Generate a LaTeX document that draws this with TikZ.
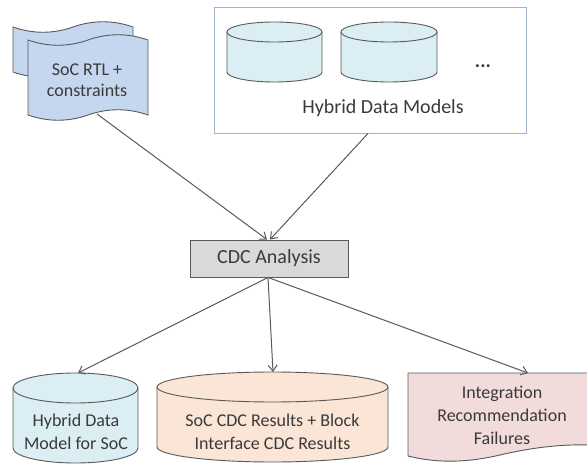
\documentclass[tikz,border=0pt]{standalone}
\usepackage{fontspec}
\setmainfont{Carlito}
\usetikzlibrary{arrows.meta}
\definecolor{linegray}{HTML}{595959}
\definecolor{textgray}{HTML}{3A3A3A}
\definecolor{sheetblue}{HTML}{C5D7EF}
\definecolor{drumblue}{HTML}{DAEEF3}
\definecolor{drumpeach}{HTML}{FBE5D6}
\definecolor{docpink}{HTML}{F2DCDB}
\definecolor{boxblue}{HTML}{9FB4D0}
\definecolor{cdcgray}{HTML}{D9D9D9}
% drum: style, left x, right x, top y, bottom y, y radius
\newcommand{\drawdrum}[6]{%
  \draw[#1] (#2,#4) -- (#2,#5) arc[start angle=180,end angle=360,x radius={(#3-#2)/2},y radius=#6]
    -- (#3,#4) arc[start angle=0,end angle=180,x radius={(#3-#2)/2},y radius=#6] -- cycle;
  \draw[#1,fill=none] (#2,#4) arc[start angle=180,end angle=360,x radius={(#3-#2)/2},y radius=#6];
}
\tikzset{
  sheet/.style={draw=linegray, fill=sheetblue, line width=0.9pt},
  drum/.style={draw=linegray, line width=0.9pt},
  txt/.style={text=textgray, align=center, font=\fontsize{18}{22}\selectfont},
  bigtxt/.style={text=textgray, align=center, font=\fontsize{20}{24}\selectfont},
  conn/.style={->, draw=linegray, line width=1pt}
}
\begin{document}
\begin{tikzpicture}[x=1pt, y=1pt, >={Straight Barb[length=6pt,width=9pt]}]
\useasboundingbox (0,0) rectangle (587,464);
% input sheets
\draw[sheet] (13,437) .. controls (33,430) and (53,430) .. (73,437) .. controls (93,444) and (113,444) .. (133,437)
  -- (133,392) .. controls (113,399) and (93,399) .. (73,392) .. controls (53,385) and (33,385) .. (13,392) -- cycle;
\draw[sheet] (28,424) .. controls (48,417) and (68,417) .. (88,424) .. controls (108,431) and (128,431) .. (148,424)
  -- (148,349) .. controls (128,356) and (108,356) .. (88,349) .. controls (68,342) and (48,342) .. (28,349) -- cycle;
\node[txt, font=\fontsize{18}{21}\selectfont] (soc) at (87,384) {SoC RTL +\\constraints};
\coordinate (soc-out) at (97,350);
% hybrid data models
\node[draw=boxblue, line width=0.9pt, minimum width=312pt, minimum height=126pt] (hdmbox) at (370,394) {};
\drawdrum{drum, fill=drumblue}{227}{322}{432}{392}{10}
\drawdrum{drum, fill=drumblue}{341}{437}{432}{392}{10}
\node[bigtxt] (dots) at (483,398) {\textbf{...}};
\node[bigtxt] (hdmlabel) at (383,356) {Hybrid Data Models};
% analysis
\node[draw=linegray, fill=cdcgray, line width=0.9pt, minimum width=158pt, minimum height=37pt, bigtxt] (cdc) at (269,205.5) {CDC Analysis};
\draw[conn] (soc-out) -- ([xshift=-2pt]cdc.north);
\draw[conn] ([xshift=-2pt]hdmbox.south) -- ([xshift=1pt]cdc.north);
% outputs
\drawdrum{drum, fill=drumblue}{13}{138}{76}{16}{15}
\node[txt, font=\fontsize{18}{23}\selectfont] (hdmsoc) at (76,32) {Hybrid Data\\Model for SoC};
\coordinate (hdmsoc-top) at (78,91);
\drawdrum{drum, fill=drumpeach}{157}{388}{77}{17}{15}
\node[txt, font=\fontsize{18}{23}\selectfont] (results) at (272.5,32) {SoC CDC Results + Block\\Interface CDC Results};
\coordinate (results-top) at (273,92);
\draw[drum, fill=docpink] (408,91) -- (590,91) -- (590,19) .. controls (560,20) and (530,16) .. (500,9)
  .. controls (470,2) and (440,0) .. (408,8) -- cycle;
\node[txt, font=\fontsize{18}{23}\selectfont] (fail) at (502,49) {Integration\\Recommendation\\Failures};
\coordinate (fail-top) at (528,91);
\draw[conn] ([xshift=-1pt]cdc.south) -- (hdmsoc-top);
\draw[conn] ([xshift=-1pt]cdc.south) -- (results-top);
\draw[conn] ([xshift=-1pt]cdc.south) -- (fail-top);
\end{tikzpicture}
\end{document}
